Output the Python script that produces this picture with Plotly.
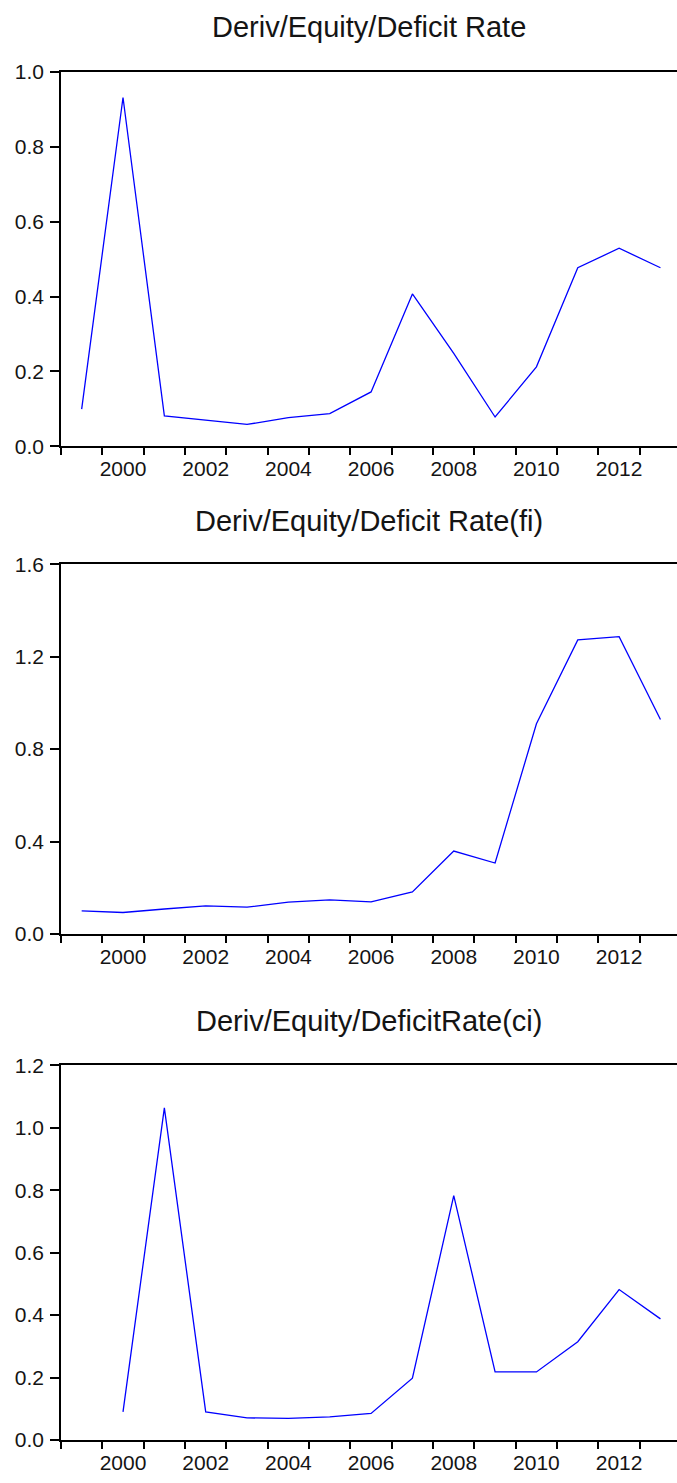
import plotly.graph_objects as go

years1 = [1999, 2000, 2001, 2002, 2003, 2004, 2005, 2006, 2007, 2008, 2009, 2010, 2011, 2012, 2013]
rate = [0.099, 0.932, 0.081, 0.069, 0.058, 0.076, 0.087, 0.145, 0.407, 0.248, 0.078, 0.212, 0.477, 0.529, 0.477]

years2 = [1999, 2000, 2001, 2002, 2003, 2004, 2005, 2006, 2007, 2008, 2009, 2010, 2011, 2012, 2013]
rate_fi = [0.100, 0.093, 0.108, 0.122, 0.116, 0.138, 0.148, 0.139, 0.182, 0.359, 0.307, 0.910, 1.273, 1.287, 0.928]

years3 = [2000, 2001, 2002, 2003, 2004, 2005, 2006, 2007, 2008, 2009, 2010, 2011, 2012, 2013]
rate_ci = [0.090, 1.064, 0.090, 0.071, 0.069, 0.074, 0.085, 0.198, 0.783, 0.218, 0.218, 0.315, 0.482, 0.388]

titles = ["Deriv/Equity/Deficit Rate", "Deriv/Equity/Deficit Rate(fi)", "Deriv/Equity/DeficitRate(ci)"]
label_years = [2000, 2002, 2004, 2006, 2008, 2010, 2012]
boundary_years = list(range(1999, 2014))
yticks = [[0.0, 0.2, 0.4, 0.6, 0.8, 1.0], [0.0, 0.4, 0.8, 1.2, 1.6], [0.0, 0.2, 0.4, 0.6, 0.8, 1.0, 1.2]]
yranges = [[0, 1.0], [0, 1.6], [0, 1.2]]

W, H = 677, 1483
# pixel positions (from top) of each panel's plot area
panels_px = [(61.0, 441.0), (561.0, 936.5), (1070.0, 1450.5)]
title_y_px = [15, 517, 1025]

series = [(years1, rate), (years2, rate_fi), (years3, rate_ci)]

fig = go.Figure()
FONT = "Liberation Sans, Arial, sans-serif"
TXT = "#141414"

for i, ((yrs, vals), (top, bot)) in enumerate(zip(series, panels_px)):
    n = "" if i == 0 else str(i + 1)
    fig.add_trace(go.Scatter(
        x=[y + 0.5 for y in yrs], y=vals, mode="lines",
        line=dict(color="#0000FF", width=1.3),
        xaxis="x" + n, yaxis="y" + n, showlegend=False, hoverinfo="skip"))
    xa = dict(
        domain=[0, 1], range=[1999, 2013.9], anchor="y" + n,
        tickmode="array", tickvals=[y + 0.5 for y in label_years],
        ticktext=[str(y) for y in label_years], ticks="", ticklen=0,
        ticklabelstandoff=3,
        minor=dict(tickmode="array", tickvals=boundary_years, ticks="outside",
                   ticklen=7, tickwidth=1.5, tickcolor="black", showgrid=False),
        showline=True, linecolor="black", linewidth=1.5, mirror=True,
        showgrid=False, zeroline=False,
        tickfont=dict(family=FONT, size=21, color=TXT),
    )
    ya = dict(
        domain=[1 - bot / H, 1 - top / H], range=yranges[i], anchor="x" + n,
        tickmode="array", tickvals=yticks[i], tickformat=".1f",
        ticks="outside", ticklen=9, tickwidth=1.5, tickcolor="black",
        ticklabelstandoff=2,
        showline=True, linecolor="black", linewidth=1.5, mirror=False,
        showgrid=False, zeroline=False,
        tickfont=dict(family=FONT, size=21, color=TXT),
    )
    fig.update_layout(**{"xaxis" + n: xa, "yaxis" + n: ya})
    fig.add_annotation(
        text=titles[i], xref="paper", yref="paper", x=0.5, y=1 - title_y_px[i] / H,
        xanchor="center", yanchor="middle", showarrow=False,
        font=dict(family=FONT, size=29, color=TXT))

fig.update_layout(
    width=W, height=H, margin=dict(l=61, r=0, t=0, b=0),
    paper_bgcolor="white", plot_bgcolor="white",
)

fig.write_html(
    "out.html",
    config={"displayModeBar": False},
    post_script="document.body.style.margin='0';document.documentElement.style.overflow='hidden';",
)
